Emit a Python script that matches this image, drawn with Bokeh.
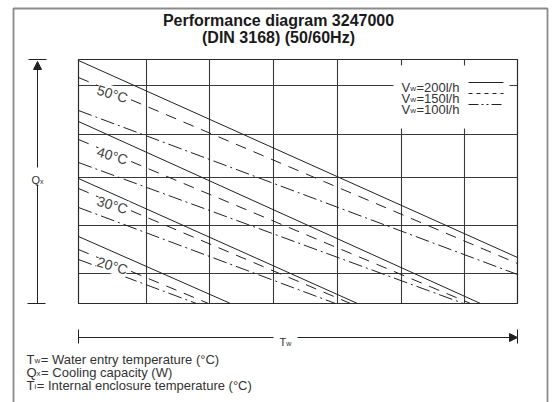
from bokeh.plotting import figure
from bokeh.models import Range1d, Label, Arrow, NormalHead
from bokeh.core.properties import value
from bokeh.embed import file_html
from bokeh.resources import INLINE

FONT = "Liberation Sans"
INK = "#222222"
TXT = "#333333"

# ---------------- data (relative units) ----------------
temps = [50, 40, 30, 20]
flow_labels = ["200l/h", "150l/h", "100l/h"]

# Qx at the left edge (Tw = 0) and the point where each line leaves the grid
q_start_200 = [243, 182, 125, 67]
tw_end_200 = [439, 402, 279, 152]
q_end_200 = [46, 0, 0, 0]

q_start_150 = [226, 164, 115, 54]
tw_end_150 = [439, 392, 272, 130]
q_end_150 = [40, 0, 0, 0]

q_start_100 = [193, 141, 96, 44]
tw_end_100 = [439, 385, 257, 118]
q_end_100 = [29, 0, 0, 0]

tw_max = 439
q_max = 244
tw_grid = [68, 131, 195, 259, 323, 386]
q_grid = [30, 78, 126, 169, 218]

notes = [("T", "w", "= Water entry temperature (\u00b0C)"),
         ("Q", "x", "= Cooling capacity (W)"),
         ("T", "i", "= Internal enclosure temperature (\u00b0C)")]

# ---------------- figure ----------------
p = figure(width=556, height=402, x_range=Range1d(-78, 478), y_range=Range1d(-99, 303),
           output_backend="svg", toolbar_location=None, min_border=0,
           x_axis_type=None, y_axis_type=None)
p.outline_line_color = None
p.background_fill_color = "white"
p.border_fill_color = "white"
p.xgrid.visible = False
p.ygrid.visible = False

# outer frame
p.line(x=[-65, -65, 469, 469], y=[-105, 295, 295, -105], line_color="#8a8a8a", line_width=1.8)

# grid
p.segment(x0=tw_grid, y0=0, x1=tw_grid, y1=q_max, line_color="#3a3a3a", line_width=1.1)
p.segment(x0=0, y0=q_grid, x1=tw_max, y1=q_grid, line_color="#3a3a3a", line_width=1.1)
p.quad(left=[0], right=[tw_max], bottom=[0], top=[q_max], fill_color=None,
       line_color="#2a2a2a", line_width=1.2)

# legend background box (masks grid)
p.quad(left=[315], right=[431], bottom=[175], top=[238], fill_color="white", line_color=None)

# curves
styles = [("solid", q_start_200, tw_end_200, q_end_200),
          ("11 8", q_start_150, tw_end_150, q_end_150),
          ("14 4 2 4", q_start_100, tw_end_100, q_end_100)]
for dash, qs, te, qe in styles:
    xs = [[0, e] for e in te]
    ys = [[s, q] for s, q in zip(qs, qe)]
    p.multi_line(xs=xs, ys=ys, line_color=INK, line_width=1.0, line_dash=dash)

# temperature labels placed on the 150 l/h line
for t, s, e, q in zip(temps, q_start_150, tw_end_150, q_end_150):
    lx = 34
    ly = s + (q - s) / e * lx - 2
    p.add_layout(Label(x=lx, y=ly, text=f"{t}\u00b0C", angle=-0.29,
                       text_align="center", text_baseline="middle",
                       text_font=FONT, text_font_size="14px", text_color="#444444",
                       background_fill_color="white"))

# helper for text with subscript
W = {"V": 0.667, "T": 0.611, "Q": 0.778, "w": 0.722, "x": 0.5, "i": 0.222}


def sub_text(x, y, base, sub, rest, size, color=TXT, center=False, rest_w=0.0):
    ss = round(size * 0.62)
    wb = W[base] * size
    wsub = W[sub] * ss
    if center:
        x = x - (wb + wsub + rest_w) / 2
    common = dict(text_font=value(FONT), text_color=color, text_baseline="alphabetic",
                  text_align="left")
    p.text(x=[x], y=[y], text=[base], text_font_size=f"{size}px", **common)
    p.text(x=[x + wb], y=[y - 1.5], text=[sub], text_font_size=f"{ss}px", **common)
    if rest:
        p.text(x=[x + wb + wsub + 0.5], y=[y], text=[rest], text_font_size=f"{size}px", **common)


# legend
leg_y = [216.5, 205.5, 194.5]
leg_dash = ["solid", "4 4", "10 3 2 3 2 3"]
for lab, yy, dash in zip(flow_labels, leg_y, leg_dash):
    sub_text(323, yy, "V", "w", "=" + lab, 13)
    p.line(x=[390, 425], y=[yy + 4.5, yy + 4.5], line_color=INK, line_width=1.0, line_dash=dash)

# title
p.text(x=[200, 200], y=[283, 266],
       text=["Performance diagram 3247000", "(DIN 3168) (50/60Hz)"],
       text_font=value(FONT), text_font_size="16px", text_font_style="bold",
       text_color="#1a1a1a", text_align="center", text_baseline="alphabetic")

# vertical Qx arrow
p.segment(x0=[-50, -51], y0=[q_max, 0], x1=[-32, -33], y1=[q_max, 0], line_color=INK, line_width=1.0)
p.segment(x0=[-41], y0=[0], x1=[-41], y1=[119], line_color=INK, line_width=1.0)
p.add_layout(Arrow(end=NormalHead(size=8, fill_color=INK, line_color=INK),
                   x_start=-41, y_start=136, x_end=-41, y_end=q_max - 2,
                   line_color=INK, line_width=1.0))
sub_text(-41, 124, "Q", "x", "", 11, center=True)

# horizontal Tw arrow
p.segment(x0=[0, tw_max], y0=[-26, -26], x1=[0, tw_max], y1=[-40, -40], line_color=INK, line_width=1.0)
p.segment(x0=[0], y0=[-34], x1=[195], y1=[-34], line_color=INK, line_width=1.0)
p.add_layout(Arrow(end=NormalHead(size=8, fill_color=INK, line_color=INK),
                   x_start=219, y_start=-34, x_end=tw_max, y_end=-34,
                   line_color=INK, line_width=1.0))
sub_text(207, -38, "T", "w", "", 11, center=True)

# notes
for (b, s, r), yy in zip(notes, [-55.5, -68.5, -81.5]):
    sub_text(-52, yy, b, s, r, 13)

open("out.html", "w").write(file_html(p, INLINE))
